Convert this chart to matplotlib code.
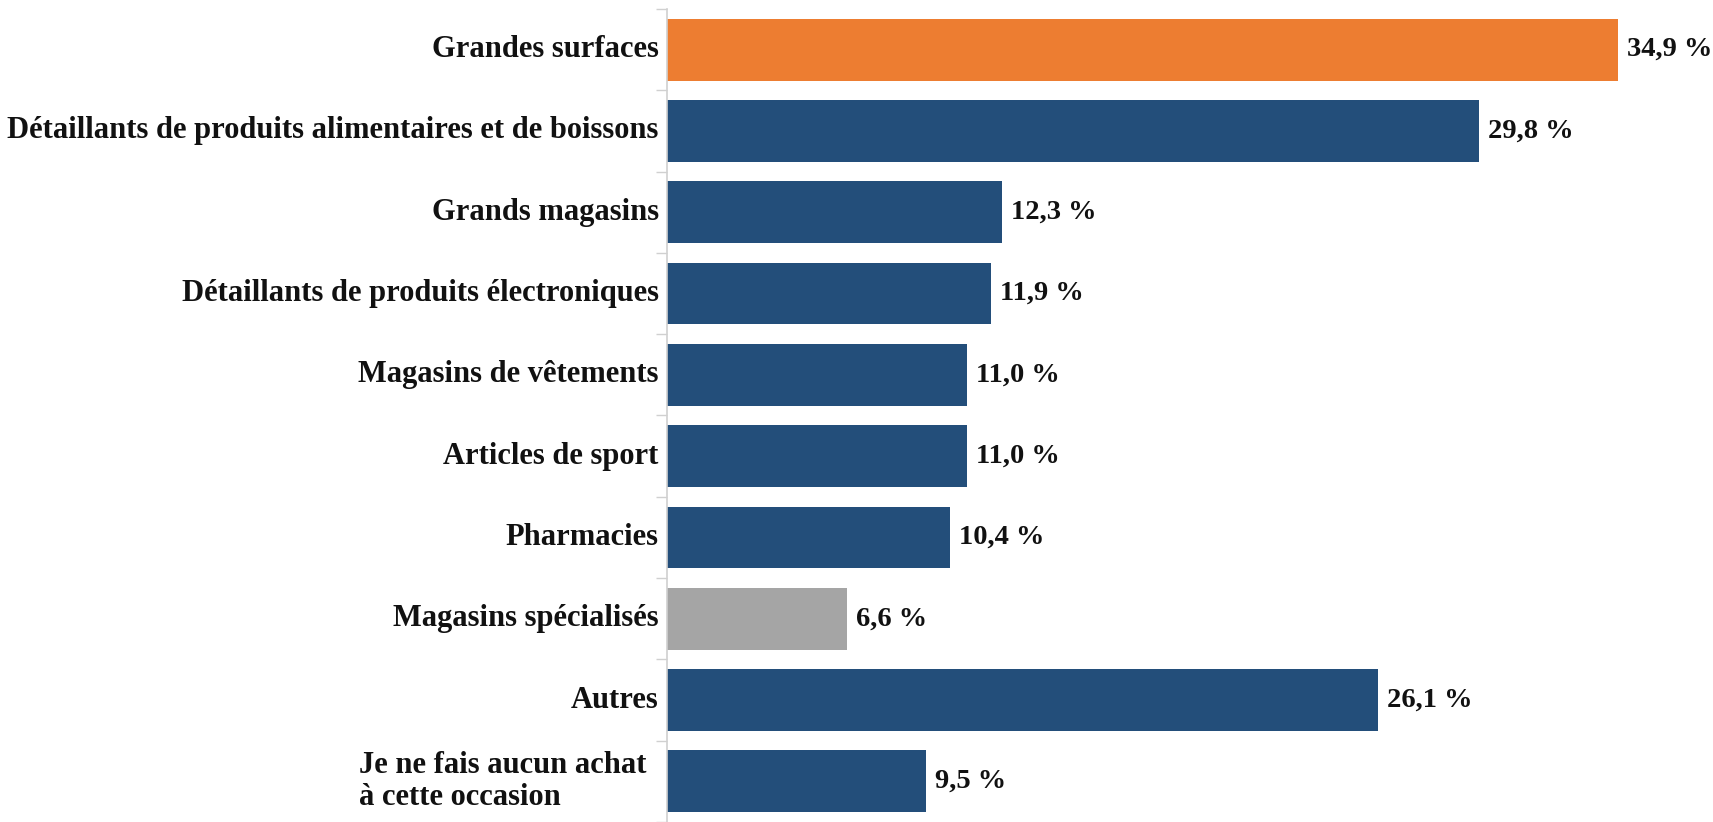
import matplotlib
matplotlib.use('Agg')
import matplotlib.pyplot as plt

# données du graphique (en %)
categories = [
    "Grandes surfaces",
    "Détaillants de produits alimentaires et de boissons",
    "Grands magasins",
    "Détaillants de produits électroniques",
    "Magasins de vêtements",
    "Articles de sport",
    "Pharmacies",
    "Magasins spécialisés",
    "Autres",
    "Je ne fais aucun achat\nà cette occasion",
]
values = [34.9, 29.8, 12.3, 11.9, 11.0, 11.0, 10.4, 6.6, 26.1, 9.5]
bar_colors = ["#ED7D31", "#234E7A", "#234E7A", "#234E7A", "#234E7A",
              "#234E7A", "#234E7A", "#A5A5A5", "#234E7A", "#234E7A"]

plt.rcParams['font.family'] = ['Liberation Serif', 'DejaVu Serif']

fig = plt.figure(figsize=(17.13, 8.22), dpi=100)
ax = fig.add_axes([0.3894, 0.0, 0.6106, 813 / 822])

ypos = list(range(len(categories)))
ax.barh(ypos, values, height=0.76, color=bar_colors)

ax.set_xlim(0, 38.4)
ax.set_ylim(-0.5 + 813 / 81.8, -0.5)

# étiquettes de valeurs
for y, v in zip(ypos, values):
    ax.text(v + 0.33, y, ("%.1f %%" % v).replace(".", ","), va='center', ha='left',
            fontsize=20.5, fontweight='bold', color='#111111')

# étiquettes des catégories
ax.set_yticks(ypos)
ax.set_yticklabels([])
for y, lab in zip(ypos, categories):
    x = -0.75 if "\n" in lab else -0.3
    ax.text(x, y, lab, va='center', ha='right', multialignment='left',
            fontsize=22, fontweight='bold', color='#111111', linespacing=1.15)

# petites graduations entre les barres
ax.set_yticks([i - 0.5 for i in range(len(categories) + 1)], minor=True)
ax.tick_params(axis='y', which='major', length=0)
ax.tick_params(axis='y', which='minor', length=8, color='#D0D0D0', width=1)
ax.set_xticks([])

for side in ['top', 'right', 'bottom']:
    ax.spines[side].set_visible(False)
ax.spines['left'].set_color('#D0D0D0')
ax.spines['left'].set_linewidth(1.2)

fig.savefig("out.png", dpi=100)
